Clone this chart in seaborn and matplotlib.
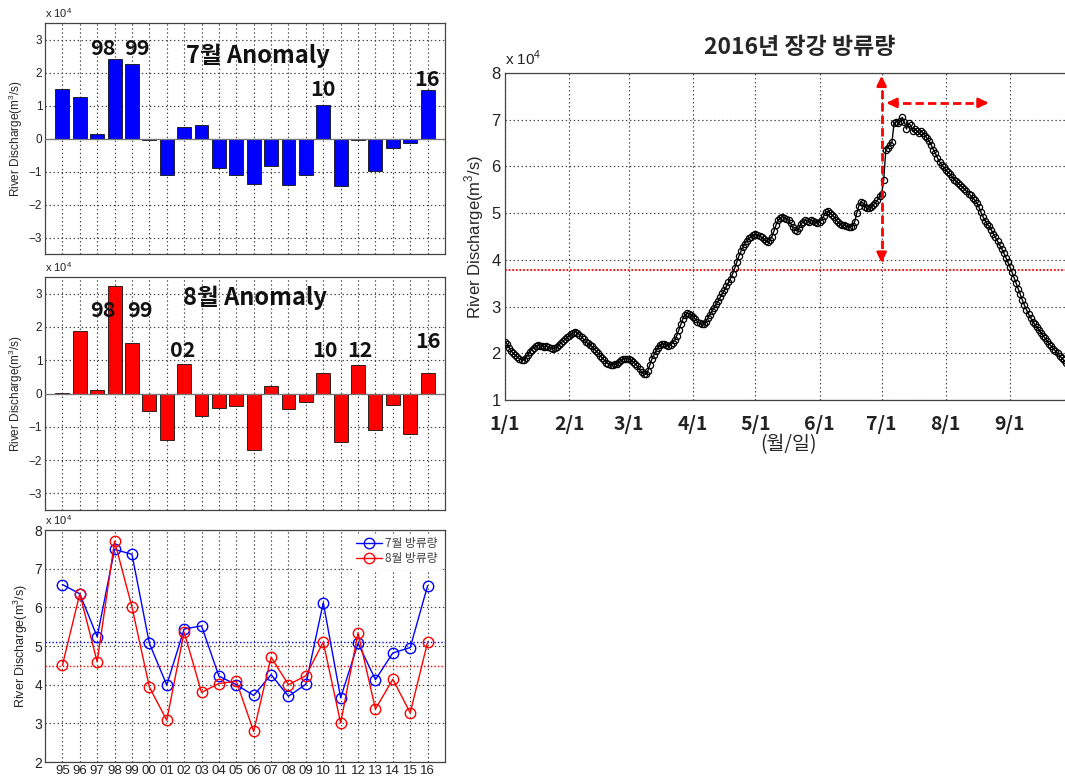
import numpy as np
import pandas as pd
import matplotlib
matplotlib.use("Agg")
import matplotlib.pyplot as plt
import seaborn as sns

# ---------------------------------------------------------------------------
# Data (discharge in units of 10^4 m^3/s)
# ---------------------------------------------------------------------------
years = ["95", "96", "97", "98", "99", "00", "01", "02", "03", "04", "05",
         "06", "07", "08", "09", "10", "11", "12", "13", "14", "15", "16"]

july_discharge = [6.59, 6.35, 5.24, 7.50, 7.37, 5.07, 3.99, 5.44, 5.52, 4.22, 4.00,
                  3.72, 4.26, 3.70, 4.01, 6.12, 3.66, 5.07, 4.13, 4.82, 4.96, 6.56]

august_discharge = [4.50, 6.35, 4.59, 7.71, 6.01, 3.94, 3.08, 5.36, 3.80, 4.03, 4.09,
                    2.79, 4.71, 4.00, 4.23, 5.10, 3.01, 5.34, 3.37, 4.14, 3.27, 5.10]

# daily discharge of 2016, from 1 January onward
daily_2016 = [
    # January
    2.25, 2.20, 2.12, 2.05, 2.00, 1.96, 1.92, 1.88, 1.86, 1.86, 1.90, 1.96, 2.03, 2.08,
    2.12, 2.16, 2.17, 2.16, 2.15, 2.14, 2.15, 2.13, 2.11, 2.10, 2.11, 2.14, 2.18, 2.22,
    2.26, 2.30, 2.34,
    # February
    2.38, 2.41, 2.44, 2.46, 2.44, 2.40, 2.35, 2.30, 2.25, 2.21, 2.18, 2.15, 2.10, 2.05,
    2.00, 1.95, 1.90, 1.85, 1.80, 1.77, 1.75, 1.75, 1.76, 1.78, 1.82, 1.85, 1.87, 1.88,
    1.88,
    # March
    1.87, 1.85, 1.82, 1.78, 1.72, 1.66, 1.60, 1.56, 1.55, 1.62, 1.75, 1.88, 1.97, 2.05,
    2.12, 2.18, 2.20, 2.19, 2.17, 2.16, 2.18, 2.22, 2.28, 2.38, 2.50, 2.62, 2.74, 2.82,
    2.86, 2.85, 2.82,
    # April
    2.78, 2.73, 2.68, 2.64, 2.62, 2.63, 2.68, 2.75, 2.83, 2.90, 2.98, 3.05, 3.12, 3.20,
    3.28, 3.36, 3.44, 3.52, 3.60, 3.70, 3.82, 3.95, 4.08, 4.18, 4.27, 4.35, 4.41, 4.46,
    4.50, 4.53,
    # May
    4.55, 4.54, 4.52, 4.48, 4.45, 4.40, 4.38, 4.42, 4.50, 4.62, 4.75, 4.85, 4.90, 4.92,
    4.90, 4.88, 4.85, 4.78, 4.70, 4.64, 4.62, 4.68, 4.76, 4.82, 4.85, 4.84, 4.82, 4.85,
    4.83, 4.80, 4.79,
    # June
    4.80, 4.86, 4.94, 5.02, 5.04, 5.00, 4.96, 4.92, 4.86, 4.80, 4.76, 4.74, 4.75, 4.72,
    4.70, 4.70, 4.73, 4.82, 5.00, 5.16, 5.24, 5.22, 5.14, 5.10, 5.11, 5.14, 5.18, 5.22,
    5.28, 5.36,
    # July
    5.42, 5.70, 6.35, 6.40, 6.46, 6.52, 6.92, 6.96, 6.94, 6.98, 7.05, 6.95, 6.80, 6.92,
    6.88, 6.75, 6.80, 6.76, 6.72, 6.75, 6.72, 6.66, 6.60, 6.54, 6.46, 6.36, 6.28, 6.18,
    6.10, 6.04, 5.98,
    # August
    5.93, 5.88, 5.84, 5.78, 5.72, 5.68, 5.64, 5.60, 5.56, 5.52, 5.47, 5.42, 5.38, 5.33,
    5.28, 5.22, 5.13, 5.02, 4.92, 4.84, 4.76, 4.72, 4.64, 4.56, 4.48, 4.40, 4.32, 4.24,
    4.15, 4.05, 3.95,
    # September
    3.85, 3.74, 3.62, 3.50, 3.38, 3.26, 3.14, 3.03, 2.93, 2.84, 2.76, 2.68, 2.62, 2.56,
    2.50, 2.44, 2.38, 2.32, 2.26, 2.20, 2.15, 2.10, 2.05, 2.00, 1.95, 1.90, 1.85, 1.80,
]

reference_level_2016 = 3.78
month_labels = ["1/1", "2/1", "3/1", "4/1", "5/1", "6/1", "7/1", "8/1", "9/1"]

# ---------------------------------------------------------------------------
# Style
# ---------------------------------------------------------------------------
sns.set_style("white")
plt.rcParams["font.family"] = ["Liberation Sans", "Noto Sans CJK KR", "DejaVu Sans"]
plt.rcParams["axes.edgecolor"] = "#444444"
plt.rcParams["axes.linewidth"] = 0.9
plt.rcParams["xtick.direction"] = "in"
plt.rcParams["ytick.direction"] = "in"
plt.rcParams["mathtext.fontset"] = "custom"
plt.rcParams["mathtext.rm"] = "Liberation Sans"

KR = "Noto Sans CJK KR"
GRID = dict(color="#444444", linestyle=(0, (1.2, 2.2)), linewidth=0.85)

W, H = 1065, 777
fig = plt.figure(figsize=(W / 100, H / 100), dpi=100)


def frac(left, top, right, bottom):
    return [left / W, (H - bottom) / H, (right - left) / W, (bottom - top) / H]


ax1 = fig.add_axes(frac(45, 23, 445, 254))
ax2 = fig.add_axes(frac(45, 277, 445, 510))
ax3 = fig.add_axes(frac(45, 530, 445, 762))
axr = fig.add_axes(frac(505, 73, 1072, 400))

ylabel_small = r"River Discharge(m$^3$/s)"


def offset_label(ax, size):
    ax.text(0.0, 1.015, r"x 10$^4$", transform=ax.transAxes, ha="left", va="bottom",
            fontsize=size, color="#222222")


def anomaly_panel(ax, values, color, labels):
    anomaly = np.asarray(values) - np.mean(values)
    df = pd.DataFrame({"year": years, "anomaly": anomaly})
    sns.barplot(data=df, x="year", y="anomaly", color=color, saturation=1,
                edgecolor="#111111", linewidth=0.6, width=0.8, ax=ax, zorder=3)
    ax.axhline(0, color="#777777", linewidth=0.9, zorder=4)
    ax.set_xlim(-1, len(years))
    ax.set_ylim(-3.5, 3.5)
    ax.set_yticks(range(-3, 4))
    ax.set_xticks(range(len(years)))
    ax.set_xticklabels([])
    ax.grid(True, **GRID)
    ax.set_axisbelow(True)
    ax.tick_params(axis="both", length=3, width=0.7, labelsize=8.5, pad=2,
                   colors="#222222")
    ax.set_xlabel("")
    ax.set_ylabel(ylabel_small, fontsize=8.5, labelpad=3)
    offset_label(ax, 8)
    for text, x, y, size in labels:
        ax.text(x, y, text, ha="center", va="center", fontsize=size,
                fontweight="bold", family=KR, color="#111111", zorder=5)


anomaly_panel(ax1, july_discharge, "#0000ff", [
    ("98", 2.3, 2.72, 15.5), ("99", 4.3, 2.72, 15.5), ("7월 Anomaly", 11.25, 2.5, 17),
    ("10", 15.0, 1.5, 15.5), ("16", 20.95, 1.8, 15.5),
])
anomaly_panel(ax2, august_discharge, "#ff0000", [
    ("98", 2.3, 2.5, 15.5), ("99", 4.45, 2.5, 15.5), ("8월 Anomaly", 11.1, 2.87, 17),
    ("02", 6.9, 1.3, 15.5), ("10", 15.1, 1.3, 15.5), ("12", 17.1, 1.3, 15.5),
    ("16", 21.0, 1.55, 15.5),
])

# ---------------------------------------------------------------------------
# Monthly discharge by year
# ---------------------------------------------------------------------------
pos = np.arange(len(years))
for values, color, name in [(july_discharge, "#0000ff", "7월 방류량"),
                            (august_discharge, "#ff0000", "8월 방류량")]:
    sns.lineplot(x=pos, y=values, color=color, linewidth=1.0, marker="o",
                 markersize=7.5, markerfacecolor="none", markeredgecolor=color,
                 markeredgewidth=1.0, label=name, ax=ax3, zorder=3)
    ax3.axhline(np.mean(values), color=color, linestyle=(0, (1, 1.5)), linewidth=1.0,
                zorder=2)

ax3.set_xlim(-1, len(years))
ax3.set_ylim(2, 8)
ax3.set_yticks(range(2, 9))
ax3.set_xticks(pos)
ax3.set_xticklabels(years)
ax3.grid(True, **GRID)
ax3.set_axisbelow(True)
ax3.tick_params(axis="both", length=3, width=0.7, labelsize=9.5, pad=2, colors="#222222")
ax3.tick_params(axis="y", labelsize=10)
ax3.set_xlabel("")
ax3.set_ylabel(ylabel_small, fontsize=9, labelpad=3)
offset_label(ax3, 8)
leg = ax3.legend(loc="upper right", fontsize=8.5, frameon=True, borderpad=0.3,
                 handlelength=2.2, handletextpad=0.3, labelspacing=0.2,
                 borderaxespad=0.3)
leg.get_frame().set_facecolor("white")
leg.get_frame().set_edgecolor("white")
leg.get_frame().set_alpha(1)
for t in leg.get_texts():
    t.set_color("#444444")
    t.set_family(KR)

# ---------------------------------------------------------------------------
# Daily discharge in 2016
# ---------------------------------------------------------------------------
dates = pd.date_range("2016-01-01", periods=len(daily_2016), freq="D")
sns.lineplot(x=dates, y=daily_2016, color="black", linewidth=1.0, marker="o",
             markersize=4.5, markerfacecolor="none", markeredgecolor="black",
             markeredgewidth=0.9, ax=axr, zorder=3)
axr.axhline(reference_level_2016, color="#ff0000", linestyle=(0, (1, 1)),
            linewidth=1.3, zorder=2)

month_starts = pd.date_range("2016-01-01", periods=10, freq="MS")
axr.set_xlim(month_starts[0], month_starts[-1])
axr.set_ylim(1, 8)
axr.set_yticks(range(1, 9))
axr.set_xticks(month_starts[:-1])
axr.set_xticklabels(month_labels, fontweight="bold", family=KR, fontsize=14)
axr.grid(True, **GRID)
axr.set_axisbelow(True)
axr.tick_params(axis="both", length=4, width=0.7, colors="#222222")
axr.tick_params(axis="y", labelsize=12, pad=3)
axr.tick_params(axis="x", pad=11)
axr.set_xlabel("(월/일)", fontsize=14, family=KR, fontweight="medium", labelpad=0)
axr.set_ylabel(r"River Discharge(m$^3$/s)", fontsize=12, labelpad=4)
axr.set_title("2016년 장강 방류량", fontsize=16.5, fontweight="bold", family=KR,
              pad=14, x=0.52)
offset_label(axr, 11)

# flood period markers
flood_start = pd.Timestamp("2016-07-01")
flood_span = (pd.Timestamp("2016-07-02"), pd.Timestamp("2016-08-23"))
red = "#ff0000"
axr.plot([flood_start, flood_start], [3.98, 7.85], color=red, linestyle=(0, (3, 1.5)),
         linewidth=2, zorder=5)
for y0, y1 in [(7.7, 8.0), (4.2, 3.88)]:
    axr.annotate("", xy=(flood_start, y1), xytext=(flood_start, y0),
                 arrowprops=dict(arrowstyle="-|>", color=red, lw=2, mutation_scale=14),
                 zorder=6, annotation_clip=False)
axr.plot([flood_span[0] + pd.Timedelta(days=3), flood_span[1] - pd.Timedelta(days=3)],
         [7.36, 7.36], color=red, linestyle=(0, (3, 1.5)), linewidth=2, zorder=5)
for a, b in [(flood_span[0] + pd.Timedelta(days=5), flood_span[0]),
             (flood_span[1] - pd.Timedelta(days=5), flood_span[1])]:
    axr.annotate("", xy=(b, 7.36), xytext=(a, 7.36),
                 arrowprops=dict(arrowstyle="-|>", color=red, lw=2, mutation_scale=14),
                 zorder=6)

fig.savefig("out.png", dpi=100, facecolor="white")
